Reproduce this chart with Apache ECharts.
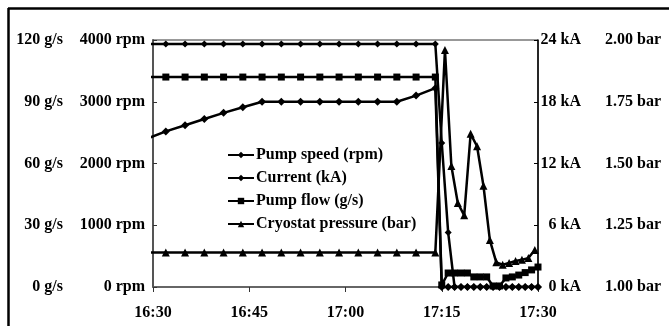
<!DOCTYPE html>
<html>
<head>
<meta charset="utf-8">
<script src="https://cdn.jsdelivr.net/npm/echarts@6/dist/echarts.min.js"></script>
<style>
  html, body { margin: 0; padding: 0; background: #fff; }
  #chart { width: 669px; height: 326px; }
</style>
</head>
<body>
<div id="chart"></div>
<script>
// time in minutes after 16:30
const tickLabels = ["16:30", "16:45", "17:00", "17:15", "17:30"];

const speedTimes = [-1, 2, 5, 8, 11, 14, 17, 20, 23, 26, 29, 32, 35, 38, 41, 44,
  45, 46, 47, 48, 49, 50, 51, 52, 53, 54, 55, 56, 57, 58, 59, 60];
const speedRpm = [2400, 2520, 2620, 2720, 2820, 2910, 3000, 3000, 3000, 3000, 3000, 3000, 3000, 3000, 3100, 3220,
  0, 0, 0, 0, 0, 0, 0, 0, 0, 0, 0, 0, 0, 0, 0, 0];

const currentTimes = [-1, 2, 5, 8, 11, 14, 17, 20, 23, 26, 29, 32, 35, 38, 41, 44,
  45, 46, 47, 48, 49, 50, 51, 52, 53, 54, 55, 56, 57, 58, 59, 60];
const currentKA = [23.6, 23.6, 23.6, 23.6, 23.6, 23.6, 23.6, 23.6, 23.6, 23.6, 23.6, 23.6, 23.6, 23.6, 23.6, 23.6,
  14, 5.3, 0, 0, 0, 0, 0, 0, 0, 0, 0, 0, 0, 0, 0, 0];

const flowTimes = [-1, 2, 5, 8, 11, 14, 17, 20, 23, 26, 29, 32, 35, 38, 41, 44,
  45, 46, 47, 48, 49, 50, 51, 52, 53, 54, 55, 56, 57, 58, 59, 60];
const flowGs = [102, 102, 102, 102, 102, 102, 102, 102, 102, 102, 102, 102, 102, 102, 102, 102,
  1, 6.8, 6.8, 6.8, 6.8, 4.9, 4.9, 4.9, 0.5, 0.5, 4.4, 4.9, 5.8, 7, 8.3, 9.7];

const pressureTimes = [-1, 2, 5, 8, 11, 14, 17, 20, 23, 26, 29, 32, 35, 38, 41, 44,
  45.5, 46.5, 47.5, 48.5, 49.5, 50.5, 51.5, 52.5, 53.5, 54.5, 55.5, 56.5, 57.5, 58.5, 59.5];
const pressureBar = [1.14, 1.14, 1.14, 1.14, 1.14, 1.14, 1.14, 1.14, 1.14, 1.14, 1.14, 1.14, 1.14, 1.14, 1.14, 1.14,
  1.96, 1.49, 1.34, 1.29, 1.62, 1.57, 1.41, 1.19, 1.10, 1.09, 1.097, 1.105, 1.11, 1.117, 1.15];

const font = '"Liberation Serif", "Times New Roman", serif';
const labelStyle = { color: "#000", fontFamily: font, fontWeight: "bold", fontSize: 16 };

function pairs(xs, ys) {
  return xs.map((x, i) => [x, ys[i]]);
}

function lineSeries(name, yAxisIndex, data, symbol, size) {
  return {
    name,
    type: "line",
    yAxisIndex,
    data,
    symbol,
    symbolSize: size,
    showAllSymbol: true,
    clip: true,
    lineStyle: { color: "#000", width: 2.5 },
    itemStyle: { color: "#000" },
  };
}

const chart = echarts.init(document.getElementById("chart"));
chart.setOption({
  animation: false,
  backgroundColor: "#fff",
  graphic: [
    { type: "line", shape: { x1: 8.5, y1: 8, x2: 8.5, y2: 326 }, style: { stroke: "#000", lineWidth: 2.5 } },
    { type: "line", shape: { x1: 8, y1: 8.5, x2: 669, y2: 8.5 }, style: { stroke: "#000", lineWidth: 2.5 } },
  ],
  grid: {
    left: 153, right: 131, top: 40, bottom: 39,
    show: true, borderColor: "#333", borderWidth: 1,
  },
  legend: {
    orient: "vertical",
    left: 222,
    top: 142,
    itemWidth: 26,
    itemHeight: 8,
    itemGap: 7,
    textStyle: { ...labelStyle, lineHeight: 16, padding: [0, 0, 0, -3] },
    data: ["Pump speed (rpm)", "Current (kA)", "Pump flow (g/s)", "Cryostat pressure (bar)"],
  },
  xAxis: {
    type: "value",
    min: 0,
    max: 60,
    interval: 15,
    axisLine: { lineStyle: { color: "#555", width: 1.5 } },
    axisTick: { length: 5, lineStyle: { color: "#333" } },
    splitLine: { show: false },
    axisLabel: { ...labelStyle, margin: 18, formatter: (v) => tickLabels[v / 15] },
  },
  yAxis: [
    {
      type: "value", position: "left", min: 0, max: 120, interval: 30,
      axisLine: { show: false }, axisTick: { show: false }, splitLine: { show: false },
      axisLabel: { ...labelStyle, margin: 90, formatter: (v) => v + " g/s" },
    },
    {
      type: "value", position: "left", min: 0, max: 4000, interval: 1000,
      axisLine: { show: true, lineStyle: { color: "#555", width: 2 } },
      axisTick: { show: true, inside: true, length: 4, lineStyle: { color: "#333" } },
      splitLine: { show: false },
      axisLabel: { ...labelStyle, margin: 8, formatter: (v) => v + " rpm" },
    },
    {
      type: "value", position: "right", min: 0, max: 24, interval: 6,
      axisLine: { show: true, lineStyle: { color: "#000", width: 1.5 } },
      axisTick: { show: true, inside: true, length: 4, lineStyle: { color: "#000" } },
      splitLine: { show: false },
      axisLabel: { ...labelStyle, align: "right", margin: 43, formatter: (v) => v + " kA" },
    },
    {
      type: "value", position: "right", min: 1, max: 2, interval: 0.25,
      axisLine: { show: false }, axisTick: { show: false }, splitLine: { show: false },
      axisLabel: { ...labelStyle, align: "right", margin: 123, formatter: (v) => v.toFixed(2) + " bar" },
    },
  ],
  series: [
    lineSeries("Pump speed (rpm)", 1, pairs(speedTimes, speedRpm), "diamond", 8),
    lineSeries("Current (kA)", 2, pairs(currentTimes, currentKA), "diamond", 7),
    lineSeries("Pump flow (g/s)", 0, pairs(flowTimes, flowGs), "rect", 7),
    lineSeries("Cryostat pressure (bar)", 3, pairs(pressureTimes, pressureBar), "triangle", 8),
  ],
});

window.addEventListener("resize", () => chart.resize());
</script>
</body>
</html>
